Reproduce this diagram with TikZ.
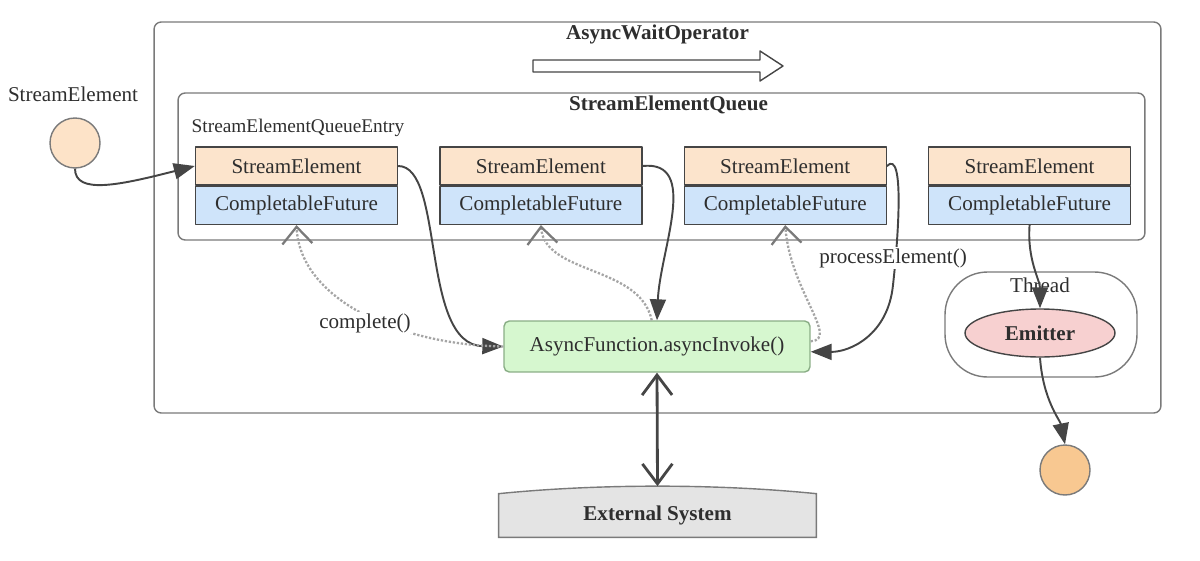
\documentclass[tikz,border=0pt]{standalone}
\usepackage{fontspec}
\setmainfont{Liberation Serif}
\usepackage{tikz}
\usepackage{xcolor}
\usetikzlibrary{arrows.meta,positioning,shapes.geometric,calc,backgrounds}
\definecolor{FrameGray}{HTML}{7A7A7A}
\definecolor{LineDark}{HTML}{454545}
\definecolor{TextDark}{HTML}{2E2E2E}
\definecolor{ElemPeach}{HTML}{FCE4CC}
\definecolor{FutureBlue}{HTML}{CFE4FA}
\definecolor{FuncGreen}{HTML}{D6F7CF}
\definecolor{FuncEdge}{HTML}{8AAE86}
\definecolor{EmitPink}{HTML}{F7D0D0}
\definecolor{InPeach}{HTML}{FDE3C8}
\definecolor{OutOrange}{HTML}{F8C891}
\definecolor{SysGray}{HTML}{E4E4E4}
\definecolor{DotGray}{HTML}{A5A5A5}
\tikzset{
  framebox/.style={draw=FrameGray, thick, rounded corners=4pt, inner sep=0pt},
  elembox/.style={draw=LineDark, fill=ElemPeach, thick, minimum width=4.04cm, minimum height=7.6mm, inner sep=0pt},
  futbox/.style={draw=LineDark, fill=FutureBlue, thick, minimum width=4.04cm, minimum height=7.6mm, inner sep=0pt},
  funcbox/.style={draw=FuncEdge, fill=FuncGreen, thick, rounded corners=3pt, minimum width=6.12cm, minimum height=10.2mm},
  sysbox/.style={minimum width=6.34cm, minimum height=8.6mm, font=\fontsize{12}{14}\selectfont\bfseries},
  sysshape/.style={draw=FrameGray, fill=SysGray, thick},
  threadbox/.style={draw=FrameGray, thick, rounded corners=8.5mm, minimum width=3.84cm, minimum height=21mm},
  emitnode/.style={ellipse, draw=LineDark, fill=EmitPink, thick, minimum width=3cm, minimum height=9.6mm, font=\fontsize{12}{14}\selectfont\bfseries},
  dotnode/.style={circle, draw=FrameGray, thick, minimum size=10mm},
  titletext/.style={font=\fontsize{12}{14}\selectfont\bfseries},
  labeltext/.style={fill=white, inner sep=1pt},
  arrow/.style={-{Triangle[length=4.2mm,width=3.2mm]}, line width=1.1pt, draw=LineDark},
  callback/.style={-{Straight Barb[length=3.4mm,width=6mm,color=FrameGray]}, line width=1.3pt, draw=DotGray, densely dotted},
  bidir/.style={{Straight Barb[length=4mm,width=6mm]}-{Straight Barb[length=4mm,width=6mm]}, line width=1.6pt, draw=LineDark},
  hollowarrow/.style={draw=LineDark, thick, fill=white}
}

\begin{document}
\begin{tikzpicture}[x=0.02cm, y=-0.02cm, node distance=8.2mm, font=\fontsize{12}{14}\selectfont, text=TextDark, line join=round]
    \useasboundingbox (0,0) rectangle (1200,561);

    % operator and queue frames
    \node[framebox, minimum width=20.14cm, minimum height=7.82cm] (op) at (657.5,217.5) {};
    \node[titletext] (optitle) at ($(op.north)+(0,13)$) {AsyncWaitOperator};
    \draw[hollowarrow] (533,60) -- (760,60) -- (760,51) -- (783,66) -- (760,81) -- (760,72) -- (533,72) -- cycle;
    \node[framebox, minimum width=19.34cm, minimum height=2.94cm] (queue) at (661.5,166.5) {};
    \node[titletext] (qtitle) at ($(queue.north)+(7,13)$) {StreamElementQueue};
    \node[font=\fontsize{11}{13}\selectfont] (entrylbl) at (298,128) {StreamElementQueueEntry};

    % queue entries
    \node[elembox] (se1) at (296.5,166) {StreamElement};
    \node[futbox, below=0pt of se1] (cf1) {CompletableFuture};
    \node[elembox, right=of se1] (se2) {StreamElement};
    \node[futbox, below=0pt of se2] (cf2) {CompletableFuture};
    \node[elembox, right=of se2] (se3) {StreamElement};
    \node[futbox, below=0pt of se3] (cf3) {CompletableFuture};
    \node[elembox, right=of se3] (se4) {StreamElement};
    \node[futbox, below=0pt of se4] (cf4) {CompletableFuture};

    % input and output elements
    \node (srclbl) at (73,94) {StreamElement};
    \node[dotnode, fill=InPeach] (src) at (75,143) {};
    \node[dotnode, fill=OutOrange] (sink) at (1065,470) {};

    \node[funcbox] (af) at (657,346.5) {AsyncFunction.asyncInvoke()};
    \node[threadbox] (thread) at (1041,324.5) {};
    \node (thrlbl) at (1040,285) {Thread};
    \node[emitnode] (emit) at (1040,333) {Emitter};

    \node[sysbox] (ext) at (657.5,515.5) {External System};
    \begin{scope}[on background layer]
      \draw[sysshape] (ext.south west) -- (ext.north west) .. controls +(100,-10) and +(-100,-10) .. (ext.north east) -- (ext.south east) -- cycle;
    \end{scope}
    \coordinate (extcap) at ($(ext.north)+(0,-7.5)$);

    \draw[arrow] (src.south) .. controls (75,195) and (120,185) .. (se1.west);
    \draw[arrow] (se1.east) .. controls (445,166) and (420,345) .. (af.west);
    \draw[arrow] (se2.east) .. controls (700,160) and (660,250) .. (af.north);
    \draw[arrow] (se3.east) .. controls (905,148) and (898,240) .. (893,285) .. controls (888,335) and (850,352) .. ([yshift=-3pt]af.east);
    \node[labeltext] (pelbl) at (893,258) {processElement()};

    \draw[callback] (af.west) .. controls (400,345) and (300,300) .. (cf1.south);
    \node[labeltext] (cplbl) at (365,323) {complete()};
    \draw[callback] ([xshift=-3pt]af.north) .. controls (640,265) and (545,275) .. (cf2.south);
    \draw[callback] ([yshift=3pt]af.east) .. controls (840,340) and (790,290) .. (cf3.south);

    \draw[arrow] (cf4.south) .. controls (1027,260) and (1040,280) .. (emit.north);
    \draw[arrow] (emit.south) .. controls (1043,400) and (1060,420) .. (sink.north);
    \draw[bidir] (af.south) -- (extcap);
\end{tikzpicture}
\end{document}
